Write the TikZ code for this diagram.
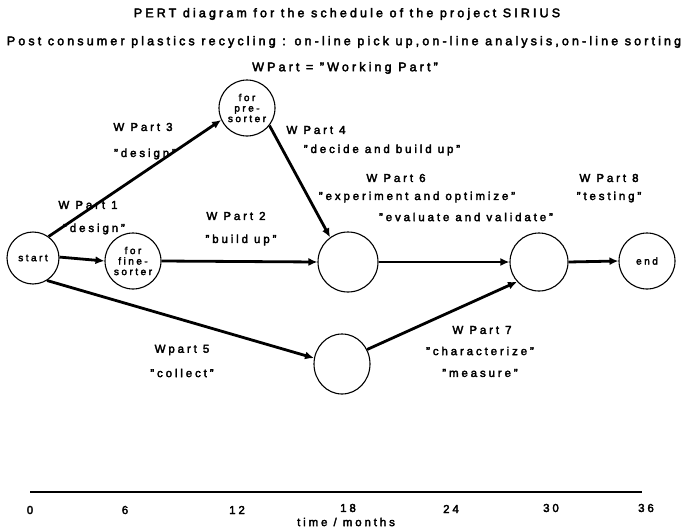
\documentclass[tikz,border=0pt]{standalone}
\usepackage{fontspec}
\setmainfont{Liberation Sans}[LetterSpace=25, FakeBold=3]
\usetikzlibrary{arrows.meta,shapes.geometric}
\tikzset{
  event/.style={draw, line width=1.1pt, circle, inner sep=0pt, minimum size=56pt,
    align=center, font=\fontsize{10}{10.5}\selectfont},
  task/.style={line width=2.8pt, -{Latex[length=9pt,width=8pt]}},
  lbl/.style={inner sep=0pt, font=\fontsize{11.5}{12}\selectfont},
  ttl/.style={inner sep=0pt, font=\fontsize{12.5}{12}\selectfont},
  tick/.style={inner sep=0pt, font=\fontsize{11.5}{12}\selectfont},
}
\begin{document}
\begin{tikzpicture}[x=1pt, y=-1pt]
\useasboundingbox (0,0) rectangle (685,530);

% headings
\node[ttl] (t1) at (347,14) {PERT diagram for the schedule of the project SIRIUS};
\node[ttl] (t2) at (344,42) {Post consumer plastics recycling : on-line pick up,on-line analysis,on-line sorting};
\node[ttl] (t3) at (345,68) {WPart = "Working Part"};

% events
\node[event, minimum size=52pt] (start) at (33,258) {start};
\node[event] (fine) at (133,261) {for\\fine-\\sorter};
\node[event] (pre) at (247,108) {for\\pre-\\sorter};
\node[event, minimum size=60pt] (mid) at (348,262) {};
\node[event, ellipse, minimum width=56pt, minimum height=60pt] (low) at (342,364) {};
\node[event, minimum size=58pt] (join) at (539,262) {};
\node[event] (end) at (647,261) {end};

% activities
\draw[task] (start.2) -- (fine.180);
\draw[task] (start.54) -- (pre.205);
\draw[task] (start.-58) -- (low.168);
\draw[task] (fine.0) -- (mid.180);
\draw[task] (pre.-38) -- (mid.126);
\draw[task] (mid.0) -- (join.180);
\draw[task] (low.30) -- (join.222);
\draw[task] (join.0) -- (end.180);

% activity labels
\node[lbl] (w3) at (143,127) {W Part 3};
\node[lbl] (w3d) at (145,154) {"design"};
\node[lbl] (w4) at (316,130) {W Part 4};
\node[lbl] (w4d) at (382,150) {"decide and build up"};
\node[lbl] (w1) at (88,205) {W Part 1};
\node[lbl] (w1d) at (94,229) {"design"};
\node[lbl] (w2) at (236,216) {W Part 2};
\node[lbl] (w2d) at (241,240) {"build up"};
\node[lbl] (w6) at (396,178) {W Part 6};
\node[lbl] (w6d) at (417,197) {"experiment and optimize"};
\node[lbl] (w6e) at (466,217) {"evaluate and validate"};
\node[lbl] (w8) at (609,178) {W Part 8};
\node[lbl] (w8d) at (609,197) {"testing"};
\node[lbl] (w5) at (182,350) {Wpart 5};
\node[lbl] (w5d) at (182,373) {"collect"};
\node[lbl] (w7) at (482,330) {W Part 7};
\node[lbl] (w7d) at (480,351) {"characterize"};
\node[lbl] (w7e) at (480,373) {"measure"};

% time axis
\coordinate (a0) at (30,492);
\coordinate (a1) at (642,492);
\draw[line width=1.6pt] (a0) -- (a1);
\node[tick] (m0) at (30,510) {0};
\node[tick] (m6) at (125,510) {6};
\node[tick] (m12) at (237,510) {12};
\node[tick] (m18) at (348,508) {18};
\node[tick] (m24) at (451,509) {24};
\node[tick] (m30) at (551,508) {30};
\node[tick] (m36) at (646,508) {36};
\node[tick] (tm) at (346,522) {time / months};
\end{tikzpicture}
\end{document}
